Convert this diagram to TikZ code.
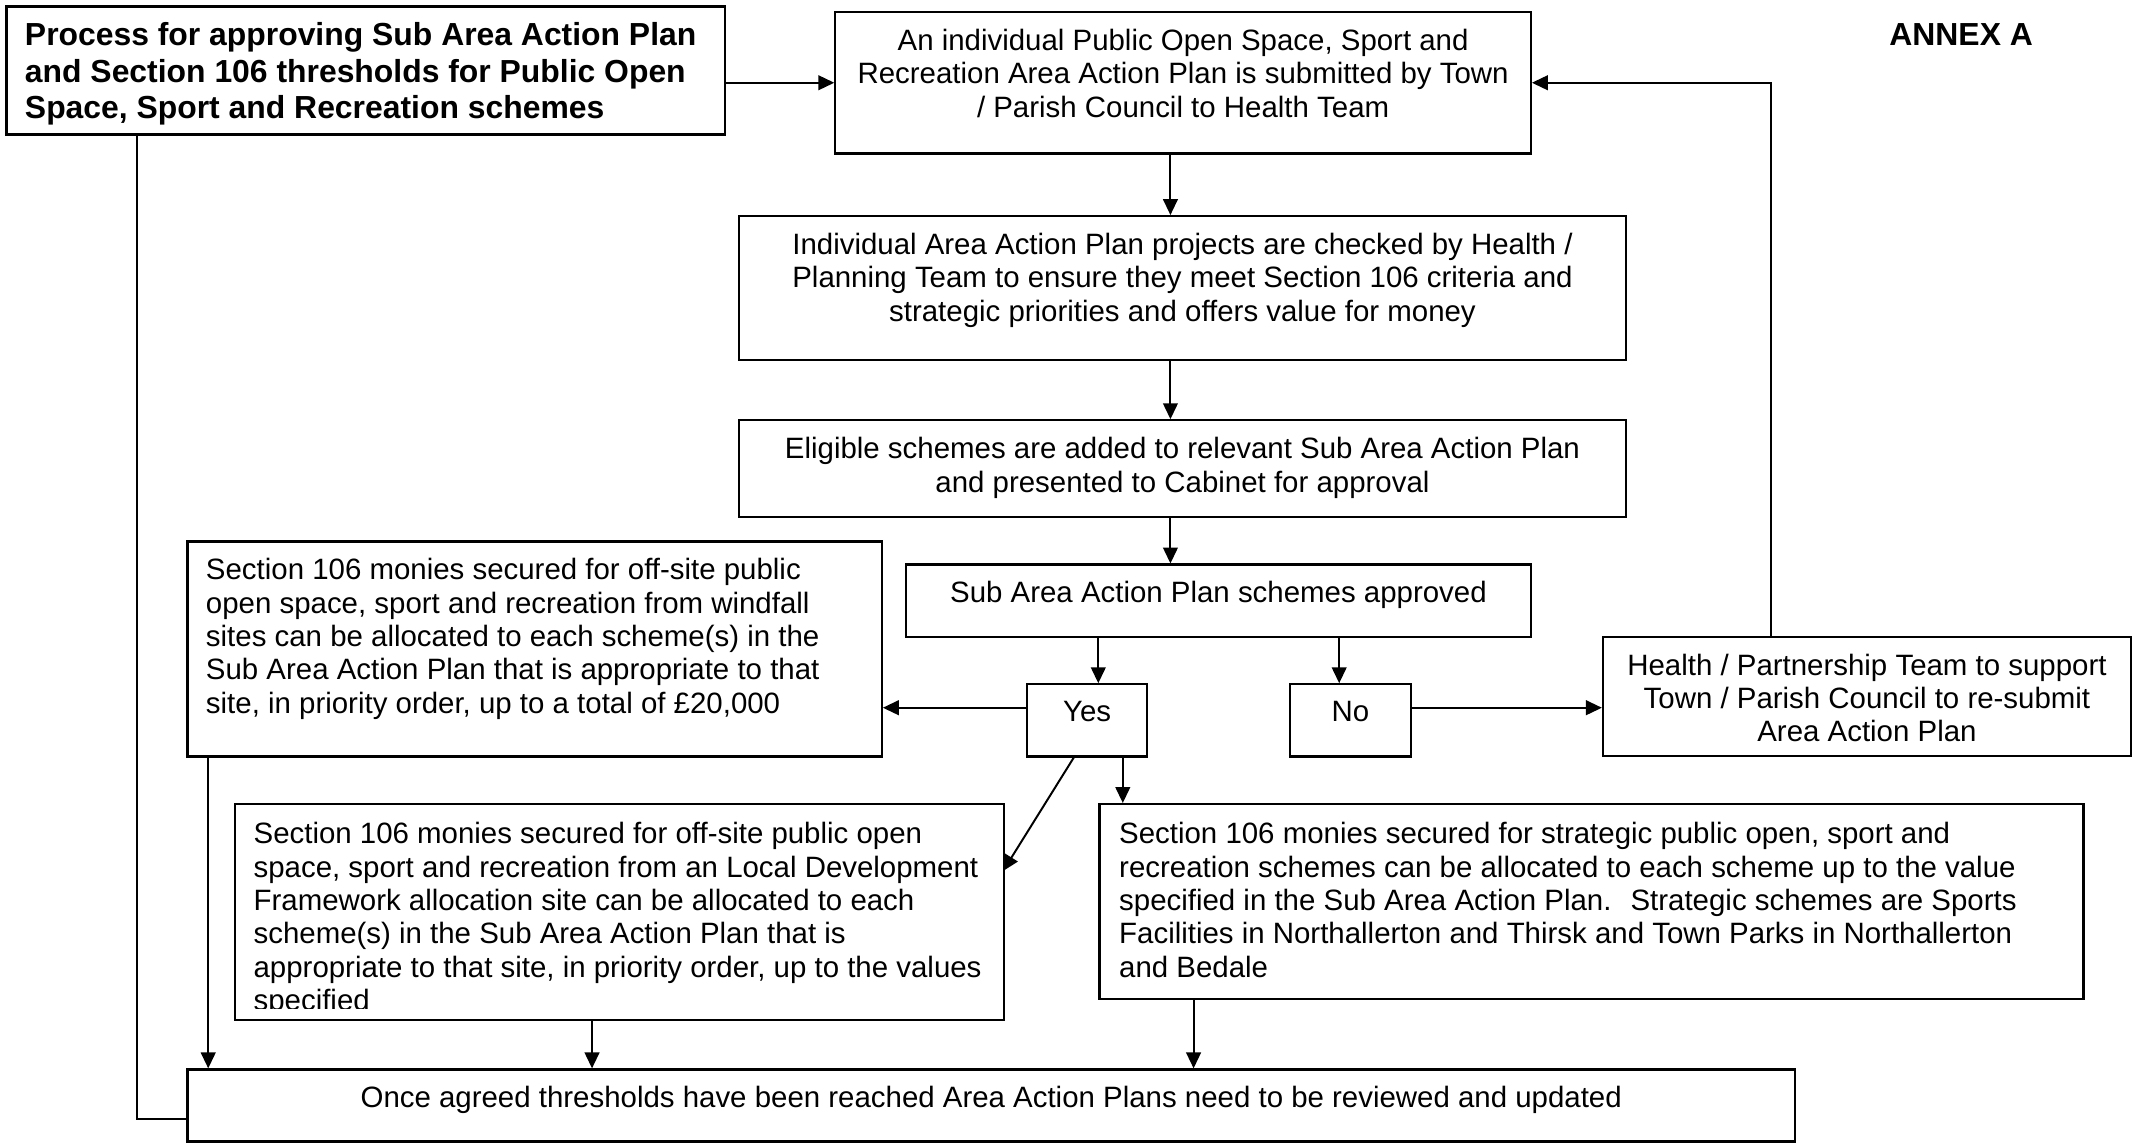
\documentclass[tikz,border=0pt]{standalone}
\usepackage{fontspec}
\setmainfont{Liberation Sans}
\usetikzlibrary{arrows.meta}
\tikzset{>/.tip={Triangle[length=6.5pt,width=6pt]}}

\begin{document}
\begin{tikzpicture}[x=0.555pt,y=-0.555pt,
  box/.style={draw,line width=0.9pt,inner sep=0pt,anchor=north west},
  txt/.style={inner sep=0pt,font=\fontsize{12}{13.6}\selectfont},
  head/.style={inner sep=0pt,font=\fontsize{13}{15}\selectfont\bfseries},
  flow/.style={->,line width=0.8pt}]
\useasboundingbox (0,0) rectangle (1568,841);

% boxes
\node[box,minimum width=293pt,minimum height=52.2pt] (title) at (4,4) {};
\node[box,minimum width=283.6pt,minimum height=57.7pt] (sub) at (613,8) {};
\node[box,minimum width=361.9pt,minimum height=58.8pt] (check) at (542,158) {};
\node[box,minimum width=361.9pt,minimum height=39.4pt] (elig) at (542,308) {};
\node[box,minimum width=254.7pt,minimum height=29.4pt] (appr) at (665,414) {};
\node[box,minimum width=48.8pt,minimum height=29.4pt] (yes) at (754,502) {};
\node[box,minimum width=49.4pt,minimum height=29.4pt] (no) at (947,502) {};
\node[box,minimum width=283.1pt,minimum height=87.7pt] (win) at (137,397) {};
\node[box,minimum width=215.3pt,minimum height=48.8pt] (health) at (1177,467) {};
\node[box,minimum width=313.6pt,minimum height=88.2pt] (ldf) at (172,590) {};
\node[box,minimum width=401.3pt,minimum height=79.4pt] (strat) at (807,590) {};
\node[box,minimum width=655.5pt,minimum height=29.4pt] (final) at (137,785) {};

% texts
\node[head,anchor=north west,align=left] (title-t) at ([shift={(14,12)}]title.north west)
  {Process for approving Sub Area Action Plan\\and Section 106 thresholds for Public Open\\Space, Sport and Recreation schemes};
\node[head] (annex) at (1441,25) {ANNEX A};
\node[txt,anchor=north,align=center] (sub-t) at ([shift={(0,13)}]sub.north)
  {An individual Public Open Space, Sport and\\Recreation Area Action Plan is submitted by Town\\/ Parish Council to Health Team};
\node[txt,anchor=north,align=center] (check-t) at ([shift={(0,13)}]check.north)
  {Individual Area Action Plan projects are checked by Health /\\Planning Team to ensure they meet Section 106 criteria and\\strategic priorities and offers value for money};
\node[txt,anchor=north,align=center] (elig-t) at ([shift={(0,13)}]elig.north)
  {Eligible schemes are added to relevant Sub Area Action Plan\\and presented to Cabinet for approval};
\node[txt,anchor=north] (appr-t) at ([shift={(0,13)}]appr.north) {Sub Area Action Plan schemes approved};
\node[txt,anchor=north] (yes-t) at ([shift={(0,13)}]yes.north) {Yes};
\node[txt,anchor=north] (no-t) at ([shift={(0,13)}]no.north) {No};
\node[txt,anchor=north west,align=left] (win-t) at ([shift={(14,13)}]win.north west)
  {Section 106 monies secured for off-site public\\open space, sport and recreation from windfall\\sites can be allocated to each scheme(s) in the\\Sub Area Action Plan that is appropriate to that\\site, in priority order, up to a total of £20,000};
\node[txt,anchor=north,align=center] (health-t) at ([shift={(0,13)}]health.north)
  {Health / Partnership Team to support\\Town / Parish Council to re-submit\\Area Action Plan};
\coordinate (ldfcut) at (737,741);
\begin{scope}
\clip (ldf.north west) rectangle (ldfcut);
\node[txt,anchor=north west,align=left] (ldf-t) at ([shift={(14,14)}]ldf.north west)
  {Section 106 monies secured for off-site public open\\space, sport and recreation from an Local Development\\Framework allocation site can be allocated to each\\scheme(s) in the Sub Area Action Plan that is\\appropriate to that site, in priority order, up to the values\\specified};
\end{scope}
\node[txt,anchor=north west,align=left] (strat-t) at ([shift={(15,14)}]strat.north west)
  {Section 106 monies secured for strategic public open, sport and\\recreation schemes can be allocated to each scheme up to the value\\specified in the Sub Area Action Plan.~ Strategic schemes are Sports\\Facilities in Northallerton and Thirsk and Town Parks in Northallerton\\and Bedale};
\node[txt,anchor=north] (final-t) at ([shift={(0,13)}]final.north)
  {Once agreed thresholds have been reached Area Action Plans need to be reviewed and updated};

% connector positions
\coordinate (mainx) at (860,0);
\coordinate (yesx) at (807,0);
\coordinate (nox) at (984,0);
\coordinate (sidey) at (0,520);
\coordinate (loopx) at (1301,0);
\coordinate (diagx) at (789,0);
\coordinate (ldfin) at (737,640);
\coordinate (downx) at (825,0);
\coordinate (winx) at (153,0);
\coordinate (ldfx) at (435,0);
\coordinate (stratx) at (877,0);
\coordinate (titlex) at (101,0);
\coordinate (finaly) at (0,822);

% connectors
\draw[flow] (title.east |- sub.west) -- (sub.west);
\draw[flow] (sub.south -| mainx) -- (check.north -| mainx);
\draw[flow] (check.south -| mainx) -- (elig.north -| mainx);
\draw[flow] (elig.south -| mainx) -- (appr.north -| mainx);
\draw[flow] (appr.south -| yesx) -- (yes.north -| yesx);
\draw[flow] (appr.south -| nox) -- (no.north -| nox);
\draw[flow] (yes.west |- sidey) -- (win.east |- sidey);
\draw[flow] (no.east |- sidey) -- (health.west |- sidey);
\draw[flow] (health.north -| loopx) -- (sub.east -| loopx) -- (sub.east);
\draw[flow] (yes.south -| diagx) -- (ldfin);
\draw[flow] (yes.south -| downx) -- (strat.north -| downx);
\draw[flow] (win.south -| winx) -- (final.north -| winx);
\draw[flow] (ldf.south -| ldfx) -- (final.north -| ldfx);
\draw[flow] (strat.south -| stratx) -- (final.north -| stratx);
\draw[line width=0.8pt] (title.south -| titlex) -- (finaly -| titlex) -- (final.west |- finaly);
\end{tikzpicture}
\end{document}
